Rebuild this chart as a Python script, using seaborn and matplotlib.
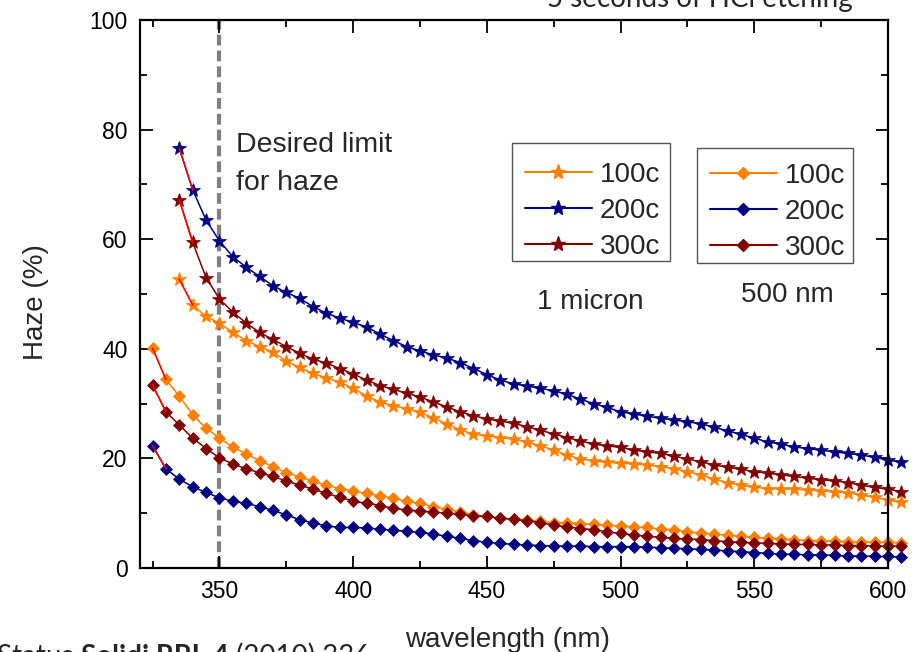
import matplotlib
matplotlib.use("Agg")
import matplotlib.pyplot as plt
import seaborn as sns
import numpy as np
from matplotlib.lines import Line2D
from matplotlib.patches import Rectangle
from matplotlib.ticker import MultipleLocator

# ---------------- data ----------------
wl_star = list(range(335, 606, 5))
wl_diam = list(range(325, 606, 5))

star_100c = [52.7, 48.0, 45.9, 44.7, 43.0, 41.5, 40.4, 39.4, 37.8, 36.6,
             35.5, 34.7, 33.9, 32.8, 31.4, 30.3, 29.6, 29.1, 28.4, 27.4,
             26.3, 25.2, 24.4, 24.1, 23.8, 23.5, 23.0, 22.3, 21.5, 20.6,
             19.9, 19.5, 19.3, 19.1, 19.0, 18.8, 18.5, 18.1, 17.6, 17.0,
             16.2, 15.6, 15.1, 14.7, 14.5, 14.4, 14.4, 14.2, 14.1, 13.9,
             13.7, 13.3, 12.9, 12.4, 12.0]
star_200c = [76.6, 69.0, 63.5, 59.7, 56.8, 54.9, 53.2, 51.5, 50.3, 49.2,
             47.7, 46.5, 45.6, 44.8, 44.0, 42.7, 41.5, 40.4, 39.6, 38.9,
             38.3, 37.5, 36.4, 35.3, 34.3, 33.6, 33.2, 32.8, 32.3, 31.7,
             30.8, 30.0, 29.3, 28.5, 28.1, 27.7, 27.3, 27.0, 26.7, 26.3,
             25.7, 25.0, 24.4, 23.7, 23.0, 22.6, 22.1, 21.8, 21.5, 21.2,
             20.9, 20.6, 20.2, 19.7, 19.3]
star_300c = [67.2, 59.4, 53.0, 49.1, 46.7, 44.7, 43.0, 41.7, 40.4, 39.2,
             38.1, 37.4, 36.4, 35.4, 34.3, 33.3, 32.6, 31.9, 31.2, 30.3,
             29.4, 28.5, 27.8, 27.2, 26.8, 26.4, 25.8, 25.1, 24.5, 23.8,
             23.2, 22.6, 22.3, 22.0, 21.5, 21.2, 20.9, 20.4, 19.9, 19.4,
             18.8, 18.4, 18.0, 17.6, 17.3, 17.0, 16.7, 16.4, 16.1, 15.9,
             15.6, 15.1, 14.7, 14.4, 13.9]

diam_100c = [40.1, 34.4, 31.3, 28.0, 25.5, 23.7, 22.1, 20.8, 19.6, 18.5,
             17.4, 16.6, 15.8, 15.1, 14.5, 14.1, 13.6, 13.2, 12.7, 12.2,
             11.8, 11.2, 10.7, 10.3, 9.7, 9.4, 9.1, 8.9, 8.8, 8.5,
             8.3, 8.3, 8.1, 8.0, 7.8, 7.7, 7.5, 7.4, 7.1, 7.0,
             6.6, 6.4, 6.2, 6.0, 5.8, 5.6, 5.4, 5.3, 5.2, 5.0,
             5.0, 4.9, 4.8, 4.7, 4.7, 4.7, 4.6]
diam_200c = [22.3, 18.1, 16.2, 14.8, 13.8, 12.8, 12.2, 11.8, 11.2, 10.5,
             9.7, 8.8, 8.2, 7.7, 7.4, 7.4, 7.3, 7.1, 6.9, 6.7,
             6.5, 6.2, 5.8, 5.4, 5.0, 4.7, 4.5, 4.3, 4.2, 4.1,
             4.0, 4.0, 4.0, 3.9, 3.9, 3.9, 3.9, 3.8, 3.7, 3.6,
             3.5, 3.4, 3.3, 3.1, 3.0, 2.8, 2.7, 2.5, 2.5, 2.4,
             2.4, 2.3, 2.2, 2.2, 2.1, 2.1, 2.0]
diam_300c = [33.4, 28.5, 26.1, 23.7, 21.8, 20.1, 19.0, 18.1, 17.4, 16.7,
             15.9, 15.1, 14.4, 13.6, 12.9, 12.2, 11.8, 11.4, 10.9, 10.6,
             10.4, 10.2, 10.0, 9.8, 9.5, 9.4, 9.1, 8.9, 8.6, 8.3,
             7.8, 7.5, 7.2, 7.0, 6.6, 6.3, 6.0, 5.8, 5.6, 5.4,
             5.3, 5.2, 5.0, 4.8, 4.7, 4.6, 4.5, 4.4, 4.3, 4.3,
             4.2, 4.2, 4.1, 4.1, 4.0, 4.0, 4.0]

series_labels = ["100c", "200c", "300c"]
x_ticks = [350, 400, 450, 500, 550, 600]
y_ticks = [0, 20, 40, 60, 80, 100]
desired_limit = 350

# ---------------- style ----------------
sns.set_style("ticks")
plt.rcParams['font.family'] = ['Liberation Sans', 'DejaVu Sans']

C_OR = '#FF8000'
C_NV = '#000080'
C_DR = '#800000'
C_FIRST = '#FF0000'

W, H = 921, 652
fig = plt.figure(figsize=(9.21, 6.52), dpi=100)
ax = fig.add_axes([140/W, 1-568/H, (888-140)/W, (568-20)/H])

def draw(x, y, color, marker, ms):
    sns.lineplot(x=x, y=y, ax=ax, color=color, marker=marker, markersize=ms,
                 markeredgecolor=color, markeredgewidth=0.5, linewidth=1.1,
                 clip_on=False, legend=False, errorbar=None, sort=False)
    # first segment drawn in red, as in the original
    ax.plot(x[:2], y[:2], color=C_FIRST, lw=1.1, zorder=2.05, clip_on=False)

draw(wl_star, star_100c, C_OR, '*', 10)
draw(wl_star, star_200c, C_NV, '*', 10)
draw(wl_star, star_300c, C_DR, '*', 10)
draw(wl_diam, diam_100c, C_OR, 'D', 6)
draw(wl_diam, diam_200c, C_NV, 'D', 6)
draw(wl_diam, diam_300c, C_DR, 'D', 6)

ax.axvline(desired_limit, color='#808080', lw=3, ls=(0, (2.6, 1.2)), zorder=0.5)

ax.set_xlim(320.3, 600)
ax.set_ylim(0, 100)
ax.set_xticks(x_ticks)
ax.set_yticks(y_ticks)
ax.xaxis.set_minor_locator(MultipleLocator(25))
ax.yaxis.set_minor_locator(MultipleLocator(10))
ax.tick_params(which='both', direction='in', top=True, right=True,
               width=1.3, labelsize=16.5, colors='black')
ax.tick_params(which='major', length=9)
ax.tick_params(which='minor', length=5)
ax.tick_params(axis='x', which='both', pad=9)
ax.tick_params(axis='y', which='both', pad=9)
for s in ax.spines.values():
    s.set_linewidth(1.6)
    s.set_color('black')

ax.set_xlabel("wavelength (nm)", fontsize=20)
ax.set_ylabel("Haze (%)", fontsize=20)
ax.xaxis.set_label_coords(0.492, -0.107)
ax.yaxis.set_label_coords(-0.122, 0.485)

ax.text(356.3, 75.9, "Desired limit", fontsize=20.5, ha='left', va='baseline')
ax.text(356.3, 69.0, "for haze", fontsize=20.5, ha='left', va='baseline')
ax.text(488.7, 47.3, "1 micron", fontsize=20, ha='center', va='baseline')
ax.text(562.2, 48.5, "500 nm", fontsize=20, ha='center', va='baseline')

def handles(marker, ms):
    return [Line2D([], [], color=c, marker=marker, markersize=ms, markeredgecolor=c,
                   lw=1.5) for c in (C_OR, C_NV, C_DR)]

common = dict(fontsize=20, handlelength=2.4, handletextpad=0.3, borderpad=0,
              labelspacing=0.36, borderaxespad=0, frameon=False,
              bbox_transform=fig.transFigure, loc='upper left')
leg1 = ax.legend(handles('*', 11), series_labels,
                 bbox_to_anchor=(525/W, 1-162/H), **common)
ax.add_artist(leg1)
leg2 = ax.legend(handles('D', 6.5), series_labels,
                 bbox_to_anchor=(710/W, 1-163/H), **common)
for (x0, y0, x1, y1) in [(512, 143, 670, 261), (697, 148, 853, 263)]:
    fig.patches.append(Rectangle((x0/W, 1-y1/H), (x1-x0)/W, (y1-y0)/H,
                                 transform=fig.transFigure, fill=False,
                                 edgecolor='#555555', lw=1.0, zorder=5))

# title cut at the top of the picture
fig.text(853/W, 1-7/H, "5 seconds of HCl etching", fontsize=20, ha='right',
         va='baseline', family=['Lato', 'DejaVu Sans'])

# citation cut at the bottom of the picture
renderer = fig.canvas.get_renderer()
y_cit = 1 - 665/H
x_right = 370
parts = [("(2010) 336", 'normal'), ("Solidi RRL 4 ", 'bold'), ("Phys. Status ", 'normal')]
for txt, wt in parts:
    t = fig.text(x_right/W, y_cit, txt, fontsize=20, ha='right', va='baseline',
                 weight=wt, family=['Lato', 'DejaVu Sans'])
    bb = t.get_window_extent(renderer)
    x_right = bb.x0

fig.savefig("out.png", dpi=100)
